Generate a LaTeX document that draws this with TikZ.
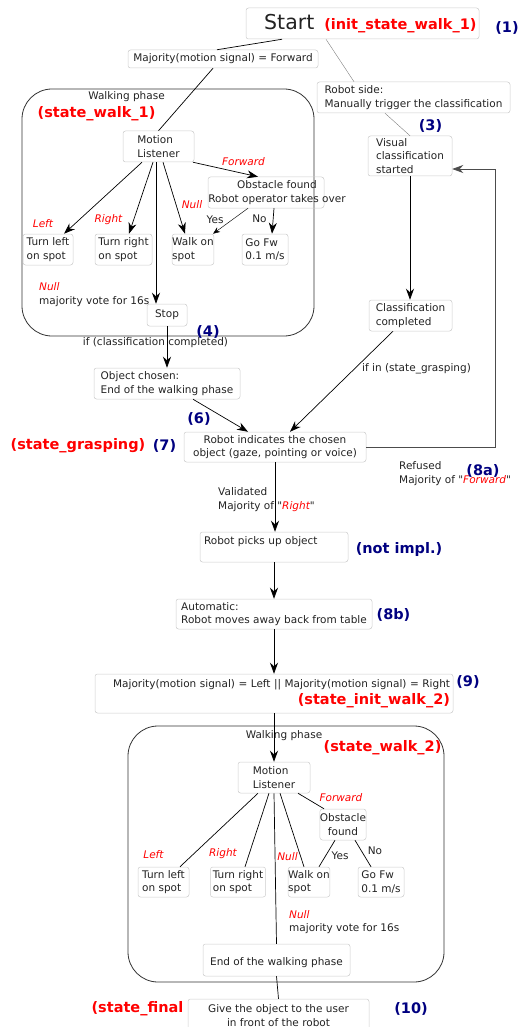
\documentclass[tikz,border=0pt]{standalone}
\usepackage{fontspec}
\setmainfont{DejaVu Sans}
\newfontfamily\plainq{DejaVu Sans}
\usetikzlibrary{arrows.meta,calc}
\definecolor{lblred}{HTML}{FF0000}
\definecolor{lblblue}{HTML}{000080}
\definecolor{txt}{HTML}{222222}
\newcommand{\dq}{{\plainq\char"22}}
\begin{document}
\begin{tikzpicture}[x=1pt,y=-1pt,
  font=\fontsize{10.5}{13.3}\selectfont,
  box/.style={draw=gray!40, rounded corners=2.5pt, line width=0.5pt, inner xsep=2.5pt, inner ysep=0pt, text=txt},
  lbl/.style={inner sep=0pt, text=txt},
  redlbl/.style={inner sep=0pt, text=lblred, font=\fontsize{14.5}{17}\selectfont\bfseries},
  bluelbl/.style={inner sep=0pt, text=lblblue, font=\fontsize{14.5}{17}\selectfont\bfseries},
  cond/.style={inner sep=0pt, text=lblred, font=\fontsize{10.5}{13.3}\selectfont\itshape},
  arr/.style={-{Stealth[length=11pt,width=8pt,inset=3.5pt]}, line width=0.7pt},
  smallarr/.style={-{Stealth[length=7pt,width=5.5pt,inset=2.2pt]}, line width=0.45pt},
  ln/.style={line width=0.7pt},
  faint/.style={draw=gray, line width=0.4pt},
  phaseframe/.style={draw=black!80, line width=0.8pt, rounded corners=30pt}]
\useasboundingbox (0,0) rectangle (521,1027);

% phase frames
\draw[phaseframe] (22,89) rectangle (314,336);
\draw[phaseframe] (128,726) rectangle (444,982);

% boxes
\node[box, minimum width=233pt, minimum height=31pt, text width=228pt, align=right] (start) at (362.5,23.5)
  {{\fontsize{20.5}{24}\selectfont Start}\hspace{10pt}{\color{lblred}\fontsize{14.5}{17}\selectfont\bfseries (init\_state\_walk\_1)}};
\node[box, minimum width=190pt, minimum height=18pt, align=center] (maj1) at (223,59) {Majority(motion signal) = Forward};
\node[box, minimum width=71pt, minimum height=31pt, align=left] (ml1) at (158.5,146.5) {Motion\\Listener};
\node[box, minimum width=116pt, minimum height=31pt] (obs1) at (266,192.5) {};
\node[lbl, align=center] (obs1t) at (277,192.5) {Obstacle found\\Robot operator takes over};
\node[box, minimum width=50pt, minimum height=31pt, align=left] (tl1) at (48,249.5) {Turn left\\on spot};
\node[box, minimum width=57pt, minimum height=31pt, align=left] (tr1) at (123.5,249.5) {Turn right\\on spot};
\node[box, minimum width=40pt, minimum height=31pt, inner xsep=0pt, align=left] (ws1) at (193,249.5) {Walk on\\spot};
\node[box, minimum width=46pt, minimum height=31pt, align=left] (gf1) at (265,249.5) {Go Fw\\0.1 m/s};
\node[box, minimum width=40pt, minimum height=22pt, align=center] (stop) at (167,315) {Stop};
\node[box, minimum width=146pt, minimum height=31pt, align=left] (obj) at (167,383.5) {Object chosen:\\End of the walking phase};
\node[box, minimum width=182pt, minimum height=30pt, align=center] (rind) at (275,447) {Robot indicates the chosen\\object (gaze, pointing or voice)};
\node[box, minimum width=193pt, minimum height=31pt, align=left] (rside) at (413.5,97.5) {Robot side:\\Manually trigger the classification};
\node[box, minimum width=84pt, minimum height=40pt, align=left] (vis) at (410,156) {Visual\\classification\\started};
\node[box, minimum width=83pt, minimum height=31pt, align=left] (clc) at (410.5,315.5) {Classification\\completed};
\node[box, minimum width=148pt, minimum height=30pt, inner xsep=4pt, text width=140pt, align=left] (pick) at (274,547) {Robot picks up object\\\mbox{}};
\node[box, minimum width=196pt, minimum height=30pt, align=left] (auto) at (274,614) {Automatic:\\Robot moves away back from table};
\node[box, minimum width=358pt, minimum height=39pt, inner xsep=3pt, text width=352pt, align=right] (maj2) at (274,693.5)
  {Majority(motion signal) = Left || Majority(motion signal) = Right\\[3pt]{\color{lblred}\fontsize{14.5}{17}\selectfont\bfseries (state\_init\_walk\_2)}};
\node[box, minimum width=72pt, minimum height=31pt, align=left] (ml2) at (274,777.5) {Motion\\Listener};
\node[box, minimum width=40pt, minimum height=31pt, inner xsep=0pt, align=center] (obs2) at (343,824.5) {Obstacle\\found};
\node[box, minimum width=51pt, minimum height=30pt, align=left] (tl2) at (163.5,882) {Turn left\\on spot};
\node[box, minimum width=54pt, minimum height=30pt, align=left] (tr2) at (238,882) {Turn right\\on spot};
\node[box, minimum width=40pt, minimum height=30pt, inner xsep=0pt, align=left] (ws2) at (309,882) {Walk on\\spot};
\node[box, minimum width=46pt, minimum height=30pt, align=left] (gf2) at (381,882) {Go Fw\\0.1 m/s};
\node[box, minimum width=147pt, minimum height=32pt, align=left] (endw) at (276.5,960) {\mbox{}\\End of the walking phase};
\node[box, minimum width=181pt, minimum height=33pt, align=center] (give) at (278.5,1015.5) {Give the object to the user\\in front of the robot};

% free labels
\node[bluelbl] (n1) at (507,28) {(1)};
\node[lbl] (wp1) at (126.5,97) {Walking phase};
\node[redlbl] (sw1) at (96.5,114) {(state\_walk\_1)};
\node[cond] (fw1) at (243.5,162) {Forward};
\node[cond] (lf1) at (43,224) {Left};
\node[cond] (rt1) at (108.5,220) {Right};
\node[cond] (nl1) at (192,205) {Null};
\node[lbl] (yes1) at (215,220) {Yes};
\node[lbl] (no1) at (259.5,219) {No};
\node[lbl, align=left, anchor=west] (mv1) at (39,294.5) {{\color{lblred}\itshape Null}\\majority vote for 16s};
\node[bluelbl] (n4) at (208,332) {(4)};
\node[lbl] (ifc) at (155.5,343) {if (classification completed)};
\node[bluelbl] (n6) at (199,419) {(6)};
\node[redlbl] (sg) at (78,446) {(state\_grasping)};
\node[bluelbl] (n7) at (164.5,446) {(7)};
\node[bluelbl] (n3) at (430.5,126) {(3)};
\node[lbl, anchor=west] (ifg) at (362,369) {if in (state\_grasping)};
\node[lbl, align=left, anchor=west] (ref) at (399,473.5) {Refused\\Majority of \dq{\color{lblred}\itshape Forward}\dq};
\node[bluelbl] (n8a) at (483,471) {(8a)};
\node[lbl, align=left, anchor=west] (val) at (218,499.5) {Validated\\Majority of \dq{\color{lblred}\itshape Right}\dq};
\node[bluelbl] (ni) at (399,549) {(not impl.)};
\node[bluelbl] (n8b) at (393.5,615) {(8b)};
\node[bluelbl] (n9) at (468,682) {(9)};
\node[lbl] (wp2) at (284,736) {Walking phase};
\node[redlbl] (sw2) at (382.5,748) {(state\_walk\_2)};
\node[cond] (fw2) at (341,798) {Forward};
\node[cond] (lf2) at (153.5,855) {Left};
\node[cond] (rt2) at (223,854) {Right};
\node[cond] (nl2) at (287.5,857) {Null};
\node[lbl] (yes2) at (340,856) {Yes};
\node[lbl] (no2) at (375,851) {No};
\node[lbl, align=left, anchor=west] (mv2) at (289,922) {{\color{lblred}\itshape Null}\\majority vote for 16s};
\node[redlbl] (sf) at (137.5,1009) {(state\_final};
\node[bluelbl] (n10) at (411,1009) {(10)};

% connectors: top part
\draw[ln] ([xshift=-80.5pt]start.south) -- ([xshift=-6pt]maj1.north);
\draw[ln] ([xshift=-10pt]maj1.south) -- (ml1.north);
\draw[faint] ([xshift=-36.5pt]start.south) -- ([xshift=-59.5pt]rside.north);
\draw[faint] ([xshift=-28.5pt]rside.south) -- (vis.north);

% walking phase 1
\draw[arr] ([xshift=34.5pt]ml1.south) -- ([xshift=-8pt]obs1.north);
\draw[arr] ([xshift=-16.5pt]ml1.south) -- ([xshift=16pt]tl1.north);
\draw[arr] ([xshift=-5.5pt]ml1.south) -- ([xshift=5.5pt]tr1.north);
\draw[arr] ([xshift=-2.5pt]ml1.south) -- ([xshift=-11pt]stop.north);
\draw[arr] ([xshift=4.5pt]ml1.south) -- ([xshift=-8pt]ws1.north);
\draw[smallarr] ([xshift=-18pt]obs1.south) -- ([xshift=-1pt]ws1.north east);
\draw[arr] ([xshift=8pt]obs1.south) -- ([xshift=7pt]gf1.north);

% middle part
\draw[arr] (stop.south) -- (obj.north);
\draw[arr] ([xshift=26pt]obj.south) -- ([xshift=-27pt]rind.north);
\draw[arr] (vis.south) -- (vis.south |- clc.north);
\draw[arr] ([xshift=-17.5pt]clc.south) -- ([xshift=15pt]rind.north);
\coordinate (loopc) at (495,169);
\draw[arr, draw=black!70] (rind.east) -| (loopc) -- ([yshift=-13pt]vis.east);
\draw[arr] (rind.south) -- (rind.south |- pick.north);
\draw[arr] (pick.south) -- (auto.north);
\draw[arr] (auto.south) -- (maj2.north);
\draw[arr] (maj2.south) -- (ml2.north);

% walking phase 2
\draw[ln] ([xshift=24pt]ml2.south) -- ([xshift=-19pt]obs2.north);
\draw[ln] ([xshift=-16pt]ml2.south) -- ([xshift=16.5pt]tl2.north);
\draw[ln] ([xshift=-5pt]ml2.south) -- ([xshift=7pt]tr2.north);
\draw[ln] (ml2.south) -- (endw.north);
\draw[ln] ([xshift=6pt]ml2.south) -- ([xshift=-5pt]ws2.north);
\draw[ln] ([xshift=-8pt]obs2.south) -- ([xshift=10pt]ws2.north);
\draw[ln] ([xshift=12pt]obs2.south) -- ([xshift=-10pt]gf2.north);
\draw[ln] (endw.south) -- (give.north);
\end{tikzpicture}
\end{document}
